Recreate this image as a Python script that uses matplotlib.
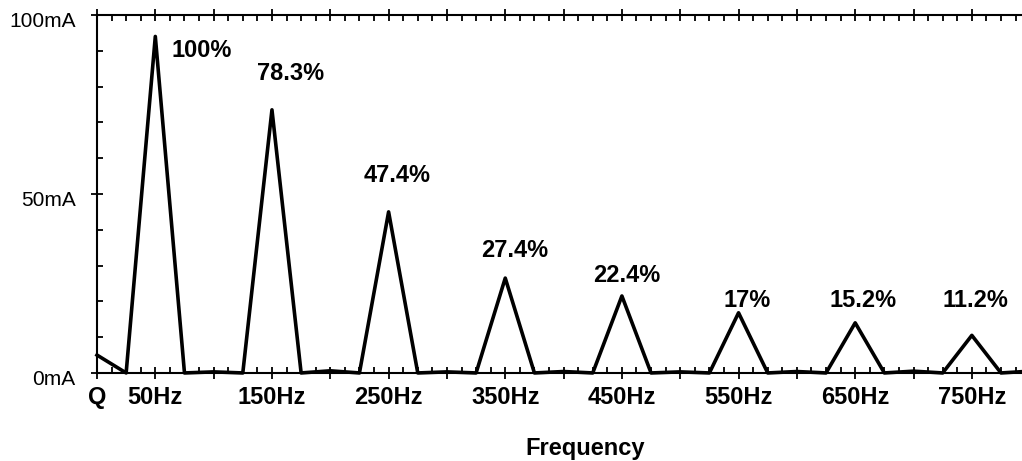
import matplotlib.pyplot as plt
import matplotlib.transforms as mtransforms
import numpy as np
from matplotlib.ticker import MultipleLocator, FixedLocator

plt.rcParams['font.family'] = ['Liberation Sans', 'DejaVu Sans']

# spectrum sampled every 25 Hz
freqs = np.arange(0, 825, 25)
current_ma = [5.0, 0, 94, 0, 0.3, 0, 73.5, 0, 0.6, 0, 45, 0, 0.3, 0,
              26.5, 0, 0.4, 0, 21.5, 0, 0.3, 0, 16.8, 0, 0.4, 0,
              14, 0, 0.5, 0, 10.5, 0, 0.5]

# harmonic labels (text anchors in data units, baseline)
pct_labels = ['100%', '78.3%', '47.4%', '27.4%', '22.4%', '17%', '15.2%', '11.2%']
pct_x = [64.3, 166.3, 257.2, 358, 454.4, 557, 656.4, 752.8]
pct_y = [88.3, 81.8, 53.4, 32.4, 25.4, 18.4, 18.4, 18.4]

xtick_pos = [0, 50, 150, 250, 350, 450, 550, 650, 750]
xtick_labels = ['Q', '50Hz', '150Hz', '250Hz', '350Hz', '450Hz', '550Hz', '650Hz', '750Hz']
ytick_pos = [0, 50, 100]
ytick_labels = ['0mA', '50mA', '100mA']

fig = plt.figure(figsize=(10.22, 4.61), dpi=100)
ax = fig.add_axes([0.0949, 0.191, 0.9051, 0.7765])

ax.plot(freqs, current_ma, color='black', linewidth=2.6, clip_on=False)

for lab, x, y in zip(pct_labels, pct_x, pct_y):
    ha = 'left' if lab == '100%' else 'center'
    ax.text(x, y, lab, ha=ha, va='baseline', fontsize=17, fontweight='bold')

ax.set_xlim(0, 793)
ax.set_ylim(0, 100)

ax.spines['right'].set_visible(False)
for s in ['left', 'bottom', 'top']:
    ax.spines[s].set_linewidth(1.5)

# x ticks
ax.xaxis.set_major_locator(FixedLocator(np.arange(0, 800, 50)))
ax.xaxis.set_minor_locator(MultipleLocator(12.5))
major_labels = []
for v in np.arange(0, 800, 50):
    if v in xtick_pos:
        major_labels.append(xtick_labels[xtick_pos.index(v)])
    else:
        major_labels.append('')
ax.set_xticklabels(major_labels, fontsize=17, fontweight='bold')
ax.tick_params(axis='x', which='major', direction='inout', length=9, width=1.3, top=True, pad=5)
ax.tick_params(axis='x', which='minor', direction='in', length=4, width=1.3, top=True)

# y ticks
ax.set_yticks(ytick_pos)
ax.set_yticklabels(ytick_labels, fontsize=15)
ax.yaxis.set_minor_locator(MultipleLocator(10))
ax.tick_params(axis='y', which='major', direction='inout', length=9, width=1.3, pad=11)
ax.tick_params(axis='y', which='minor', direction='in', length=4, width=1.3)
shift = mtransforms.ScaledTranslation(0, -5 / 100, fig.dpi_scale_trans)
for lab in ax.get_yticklabels():
    lab.set_transform(lab.get_transform() + shift)

fig.text(585.5 / 1022, 1 - 455 / 461, 'Frequency', ha='center', va='baseline',
         fontsize=17, fontweight='bold')

fig.savefig('out.png', dpi=100)
